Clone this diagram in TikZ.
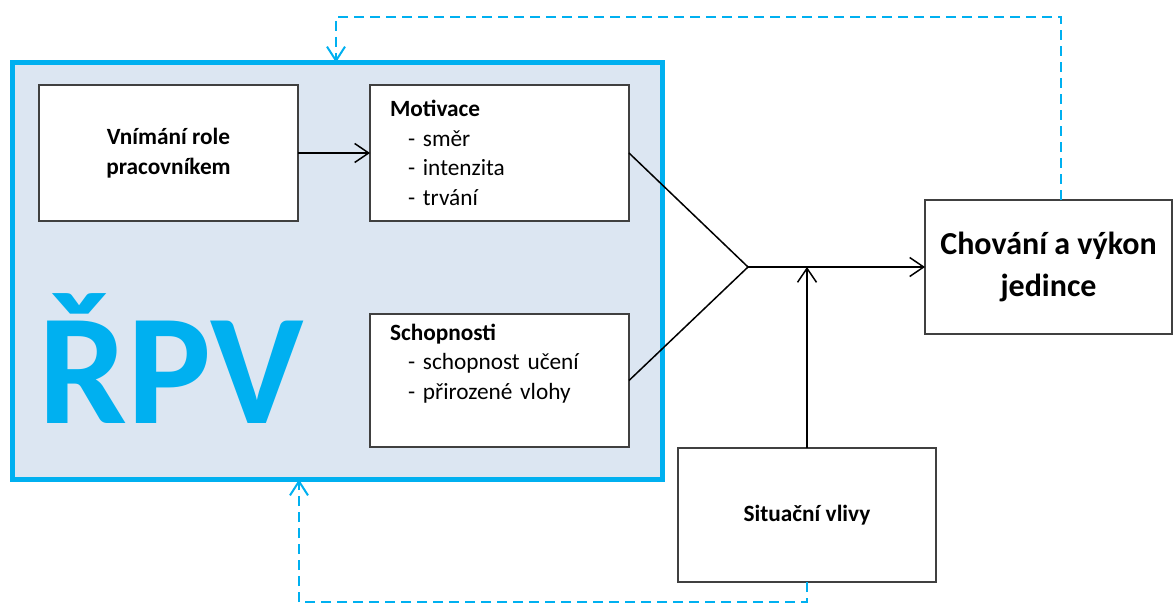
\documentclass[tikz,border=0pt]{standalone}
\usepackage{fontspec}
\setmainfont{Carlito}
\usetikzlibrary{arrows.meta,calc}
\definecolor{rpvblue}{HTML}{00B0F0}
\definecolor{rpvfill}{HTML}{DCE6F2}
\definecolor{boxline}{HTML}{404040}
\begin{document}
\begin{tikzpicture}[x=1pt,y=-1pt,
  every node/.style={inner sep=0pt,outer sep=0pt},
  plainbox/.style={draw=boxline,line width=1.4pt,fill=white},
  smalltext/.style={font=\fontsize{23.3}{29.5}\selectfont},
  conn/.style={line width=1.5pt,black},
  arr/.style={conn,-{Straight Barb[length=14pt,width=19pt,line width=1.5pt]}},
  fb/.style={line width=2pt,rpvblue,dash pattern=on 10pt off 6pt,
    -{Straight Barb[length=14pt,width=18pt,line width=2pt]}}]
\useasboundingbox (0,0) rectangle (1174,604);

% outer frame of the group
\node[draw=rpvblue,line width=5pt,fill=rpvfill,minimum width=650pt,minimum height=417pt]
  (rpv) at (337.5,271) {};
\node[anchor=base,text=rpvblue,font=\bfseries\fontsize{158}{160}\selectfont]
  (rpvlabel) at (171,423) {ŘPV};

% inner boxes
\node[plainbox,minimum width=259pt,minimum height=136pt,smalltext,align=center]
  (vnim) at (168.5,153) {\bfseries Vnímání role\\\bfseries pracovníkem};
\node[plainbox,minimum width=259pt,minimum height=136pt,smalltext,
  text width=219pt,align=left]
  (mot) at (499.5,153) {\textbf{Motivace}\\\hspace*{18pt}- směr\\\hspace*{18pt}- intenzita\\\hspace*{18pt}- trvání};
\node[plainbox,minimum width=259pt,minimum height=133pt,smalltext,
  text width=219pt,align=left]
  (schop) at (499.5,380.5) {\textbf{Schopnosti}\\\hspace*{18pt}- schopnost učení\\\hspace*{18pt}- přirozené vlohy\\\strut};

\node[plainbox,minimum width=247pt,minimum height=134pt,align=center,
  font=\bfseries\fontsize{32}{42}\selectfont]
  (chov) at (1048.5,267) {Chování a výkon\\jedince};
\node[plainbox,minimum width=258pt,minimum height=134pt,
  font=\bfseries\fontsize{23.3}{29.5}\selectfont]
  (sit) at (807,515) {Situační vlivy};

% connectors
\coordinate (apex) at (748,267);
\draw[arr] (vnim.east) -- (mot.west);
\draw[conn] (mot.east) -- (apex) -- (schop.east);
\draw[arr] (apex) -- (chov.west);
\draw[arr] (sit.north) -- (sit.north |- apex);

% feedback loops
\coordinate (topright) at (1061,17);
\draw[fb] (chov.north -| topright) -- (topright) -- (336,17) -- (rpv.north -| 336,0);
\coordinate (botleft) at (299,602);
\draw[fb] (sit.south) -- (sit.south |- botleft) -- (botleft) -- (rpv.south -| botleft);
\end{tikzpicture}
\end{document}
